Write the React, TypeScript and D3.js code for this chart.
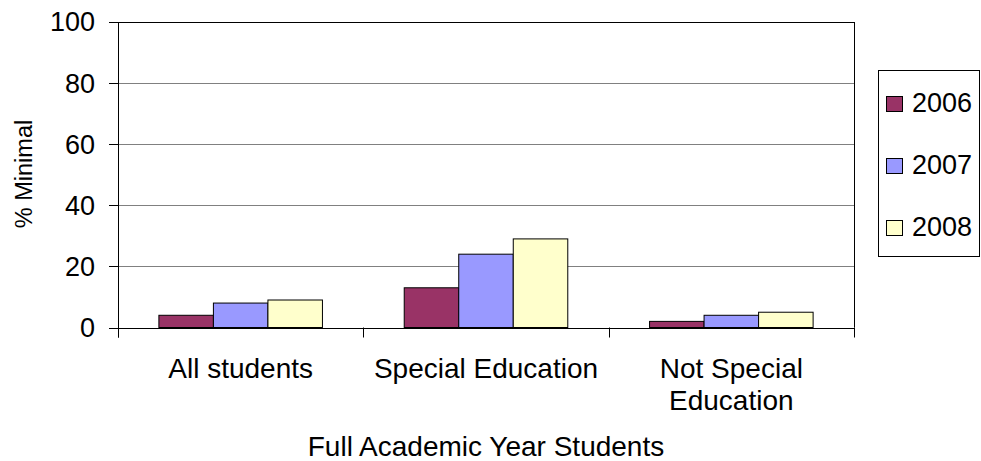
import React from 'react';
import * as d3 from 'd3';

const categories: string[][] = [['All students'], ['Special Education'], ['Not Special', 'Education']];
const years: string[] = ['2006', '2007', '2008'];
const values2006: number[] = [4, 13, 2];
const values2007: number[] = [8, 24, 4];
const values2008: number[] = [9, 29, 5];
const yTicks: number[] = [0, 20, 40, 60, 80, 100];

const colors: string[] = ['#993366', '#9999FF', '#FFFFCC'];
const font = '"Liberation Sans", Arial, sans-serif';

function App() {
    const width = 981;
    const height = 461;
    const left = 118, right = 854, top = 22, bottom = 327.5;

    const series = [values2006, values2007, values2008];
    const catKeys = categories.map((c) => c.join(' '));

    const x = d3.scaleBand<string>()
        .domain(catKeys)
        .range([left, right])
        .padding(0);

    const bw = x.bandwidth();
    const inner = d3.scaleBand<string>()
        .domain(years)
        .range([bw * 0.75 / 4.5, bw - bw * 0.75 / 4.5])
        .padding(0);

    const y = d3.scaleLinear()
        .domain([0, 100])
        .range([bottom, top]);

    const px = (v: number) => Math.round(v) + 0.5;
    const boundaries = [...catKeys.map((k) => x(k) as number), right];

    return (
        <svg width={width} height={height} style={{ position: 'absolute', left: 0, top: 0, background: '#fff' }}
            fontFamily={font}>
            {/* gridlines */}
            {yTicks.filter((t) => t > 0 && t < 100).map((t) => (
                <line key={'g' + t} x1={left} x2={right} y1={px(y(t))} y2={px(y(t))} stroke="#808080" strokeWidth={1} />
            ))}
            {/* plot border */}
            <line x1={left} x2={px(right)} y1={px(top)} y2={px(top)} stroke="#000" />
            <line x1={px(right)} x2={px(right)} y1={top} y2={bottom} stroke="#000" />

            {/* bars */}
            {catKeys.map((k, ci) => (
                <g key={k} transform={`translate(${x(k)},0)`}>
                    {years.map((yr, si) => {
                        const v = series[si][ci];
                        return (
                            <rect key={yr}
                                x={(inner(yr) as number)}
                                y={y(v)}
                                width={inner.bandwidth()}
                                height={y(0) - y(v)}
                                fill={colors[si]}
                                stroke="#000"
                                strokeWidth={1} />
                        );
                    })}
                </g>
            ))}

            {/* axes */}
            <line x1={px(left)} x2={px(left)} y1={top} y2={bottom + 10} stroke="#000" />
            <line x1={left - 9} x2={px(right)} y1={px(bottom)} y2={px(bottom)} stroke="#000" />
            {yTicks.map((t) => (
                <g key={'t' + t}>
                    <line x1={left - 9} x2={left} y1={px(y(t))} y2={px(y(t))} stroke="#000" />
                    <text x={95} y={y(t)} dy="0.35em" textAnchor="end" fontSize={27} fill="#000">{t}</text>
                </g>
            ))}
            {boundaries.map((b, i) => (
                <line key={'b' + i} x1={px(b)} x2={px(b)} y1={bottom} y2={bottom + 10} stroke="#000" />
            ))}
            {categories.map((lines, ci) => (
                <text key={'c' + ci} x={(x(catKeys[ci]) as number) + bw / 2} y={378} textAnchor="middle" fontSize={28} fill="#000">
                    {lines.map((l, li) => (
                        <tspan key={li} x={(x(catKeys[ci]) as number) + bw / 2} dy={li === 0 ? 0 : 32}>{l}</tspan>
                    ))}
                </text>
            ))}

            {/* titles */}
            <text x={(left + right) / 2} y={456} textAnchor="middle" fontSize={28} fill="#000">Full Academic Year Students</text>
            <text transform="translate(32,174) rotate(-90)" textAnchor="middle" fontSize={23.5} fill="#000">% Minimal</text>

            {/* legend */}
            <rect x={878.5} y={70.5} width={101} height={186} fill="#fff" stroke="#000" />
            {years.map((yr, i) => {
                const base = 111.5 + i * 62;
                return (
                    <g key={'l' + yr}>
                        <rect x={886.5} y={base - 15} width={16} height={15} fill={colors[i]} stroke="#000" />
                        <text x={912} y={base} fontSize={27} fill="#000">{yr}</text>
                    </g>
                );
            })}
        </svg>
    );
}

export default App;
